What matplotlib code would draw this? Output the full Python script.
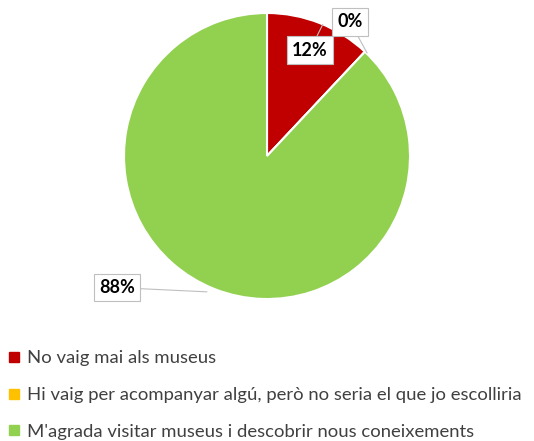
import matplotlib.pyplot as plt
from matplotlib.lines import Line2D

labels = ["No vaig mai als museus",
          "Hi vaig per acompanyar algú, però no seria el que jo escolliria",
          "M'agrada visitar museus i descobrir nous coneixements"]
values = [12, 0, 88]
pct_labels = ["12%", "0%", "88%"]
colors = ["#C00000", "#FFC000", "#92D050"]

plt.rcParams['font.family'] = ['Lato', 'DejaVu Sans']

fig = plt.figure(figsize=(5.34, 4.41), dpi=100)
ax = fig.add_axes([0.2322, 0.3220, 0.5356, 0.6485])

wedges, _ = ax.pie(values, colors=colors, startangle=90, counterclock=False,
                   wedgeprops=dict(edgecolor="white", linewidth=1.5))
ax.set_xlim(-1, 1)
ax.set_ylim(-1, 1)

# callout positions (data coords, radius 1) and anchors on the wedges
box_pos = [(0.30, 0.74), (0.58, 0.94), (-1.05, -0.92)]
anchors = [(0.39, 0.92), (0.70, 0.72), (-0.42, -0.95)]
for txt, xy, pos in zip(pct_labels, anchors, box_pos):
    ax.annotate(txt, xy=xy, xytext=pos, ha="center", va="center",
                fontsize=13, fontweight="bold", color="black",
                bbox=dict(boxstyle="square,pad=0.3", fc="white", ec="#BFBFBF", lw=0.8),
                arrowprops=dict(arrowstyle="-", color="#BFBFBF", lw=0.8,
                                shrinkA=0, shrinkB=0))

handles = [Line2D([], [], marker="s", linestyle="", markersize=6.5,
                  markerfacecolor=c, markeredgecolor=c) for c in colors]
fig.legend(handles, labels, loc="upper left", bbox_to_anchor=(0.0, 0.222),
           frameon=False, fontsize=13.3, labelcolor="#404040",
           handlelength=0.7, handletextpad=0.35, labelspacing=1.12,
           borderaxespad=0)

fig.savefig("out.png", dpi=100)
